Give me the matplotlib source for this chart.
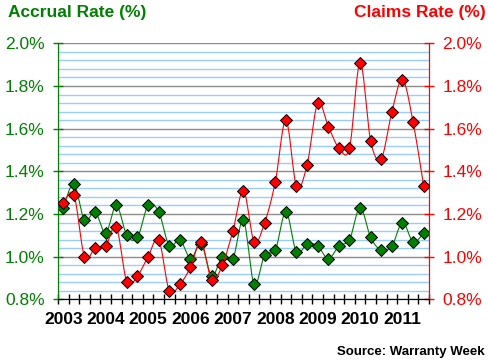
import numpy as np
import matplotlib
matplotlib.use("Agg")
import matplotlib.pyplot as plt
from matplotlib.ticker import MultipleLocator, FixedLocator, NullFormatter

plt.rcParams['font.family'] = ['Liberation Sans', 'DejaVu Sans']

# quarterly data, 2003 Q1 .. 2011 Q3
years = ["2003", "2004", "2005", "2006", "2007", "2008", "2009", "2010", "2011"]
accrual = [1.23, 1.34, 1.17, 1.21, 1.11, 1.24, 1.10, 1.09, 1.24, 1.21, 1.05, 1.08,
           0.99, 1.06, 0.91, 1.00, 0.99, 1.17, 0.87, 1.01, 1.03, 1.21, 1.02, 1.06,
           1.05, 0.99, 1.05, 1.08, 1.23, 1.09, 1.03, 1.05, 1.16, 1.07, 1.11]
claims = [1.25, 1.29, 1.00, 1.04, 1.05, 1.14, 0.88, 0.91, 1.00, 1.08, 0.84, 0.87,
          0.95, 1.07, 0.89, 0.96, 1.12, 1.31, 1.07, 1.16, 1.35, 1.64, 1.33, 1.43,
          1.72, 1.61, 1.51, 1.51, 1.91, 1.54, 1.46, 1.68, 1.83, 1.63, 1.33]

GREEN = "#008000"
RED = "#ff0000"


def smooth(x, y, n=20):
    """courbe lissee facon excel (catmull-rom)"""
    x = np.asarray(x, float)
    y = np.asarray(y, float)
    px = np.concatenate([[x[0]], x, [x[-1]]])
    py = np.concatenate([[y[0]], y, [y[-1]]])
    t = np.linspace(0, 1, n)[:, None]
    xs, ys = [], []
    for i in range(1, len(px) - 2):
        p0, p1, p2, p3 = [np.array([px[j], py[j]]) for j in (i - 1, i, i + 1, i + 2)]
        c1 = p1 + (p2 - p0) / 6
        c2 = p2 - (p3 - p1) / 6
        pts = ((1 - t) ** 3) * p1 + 3 * ((1 - t) ** 2) * t * c1 + 3 * (1 - t) * t ** 2 * c2 + t ** 3 * p2
        xs.append(pts[:, 0])
        ys.append(pts[:, 1])
    return np.concatenate(xs), np.concatenate(ys)


fig = plt.figure(figsize=(4.89, 3.63), dpi=100)
ax = fig.add_axes([58 / 489, 1 - 299.3 / 363, (429 - 58) / 489, (299.3 - 43.3) / 363])
ax2 = ax.twinx()

n = len(accrual)
xpos = np.arange(n) + 0.5

for a in (ax, ax2):
    a.set_xlim(0, n)
    a.set_ylim(0.8, 2.0)

# grille
ax.yaxis.set_minor_locator(MultipleLocator(0.04))
ax.yaxis.set_major_locator(MultipleLocator(0.2))
ax.grid(True, which='minor', axis='y', color='#99ccff', lw=1.0)
ax.grid(True, which='major', axis='y', color='#8c8c8c', lw=1.0)
ax.set_axisbelow(True)

sx, sy = smooth(xpos, accrual)
ax.plot(sx, sy, color=GREEN, lw=0.8, zorder=3)
ax.plot(xpos, accrual, ls='none', marker='D', ms=5.8, mfc=GREEN, mec='black', mew=0.7, zorder=4)

sx, sy = smooth(xpos, claims)
ax2.plot(sx, sy, color=RED, lw=0.8, zorder=3)
ax2.plot(xpos, claims, ls='none', marker='D', ms=5.8, mfc=RED, mec='black', mew=0.7, zorder=4)

# axes y
ticks = np.arange(0.8, 2.01, 0.2)
ax.set_yticks(ticks)
ax.set_yticklabels(["%.1f%%" % v for v in ticks])
ax2.set_yticks(ticks)
ax2.set_yticklabels(["%.1f%%" % v for v in ticks])
ax.tick_params(axis='y', which='major', direction='inout', length=7, width=1,
               color=GREEN, labelcolor=GREEN, labelsize=12.5, pad=6)
ax.tick_params(axis='y', which='minor', length=0)
ax2.tick_params(axis='y', which='major', direction='inout', length=7, width=1,
                color=RED, labelcolor=RED, labelsize=12.5, pad=6)
ax2.yaxis.set_minor_locator(FixedLocator([]))

# axe x
ax.xaxis.set_major_locator(FixedLocator(np.arange(0, n + 1)))
ax.xaxis.set_major_formatter(NullFormatter())
ax.xaxis.set_minor_locator(FixedLocator(np.arange(len(years)) * 4 + 0.5))
ax.set_xticklabels(years, minor=True)
ax.tick_params(axis='x', which='major', direction='inout', length=7, width=1, color='black')
ax.tick_params(axis='x', which='minor', length=0, labelsize=12.5, pad=9)
for lab in ax.get_xticklabels(minor=True):
    lab.set_fontweight('bold')
ax2.tick_params(axis='x', length=0)

for a in (ax, ax2):
    a.spines['top'].set_visible(False)
    a.spines['left'].set_color(GREEN)
    a.spines['right'].set_color(RED)
    a.spines['bottom'].set_color('black')

fig.text(8 / 489, 1 - 13 / 363, "Accrual Rate (%)", color=GREEN, fontsize=12.5,
         fontweight='bold', ha='left', va='center')
fig.text(486 / 489, 1 - 13 / 363, "Claims Rate (%)", color=RED, fontsize=12.5,
         fontweight='bold', ha='right', va='center')
fig.text(485 / 489, 1 - 352 / 363, "Source: Warranty Week", color='black', fontsize=9.5,
         fontweight='bold', ha='right', va='center')

fig.savefig("out.png", dpi=100)
